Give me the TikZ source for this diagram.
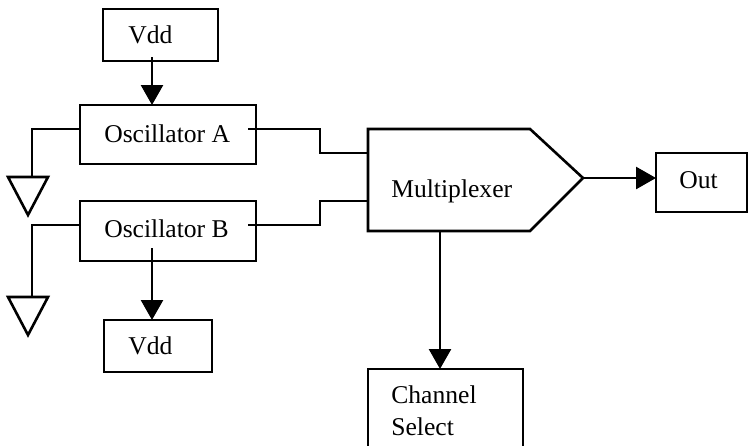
\documentclass[tikz,border=0pt]{standalone}
\usepackage{fontspec}
\setmainfont{Liberation Serif}
\usetikzlibrary{arrows.meta}
\begin{document}
\begin{tikzpicture}[x=1pt,y=-1pt,
  line width=2.6pt,
  box/.style={draw,rectangle,inner sep=0pt,outer sep=0pt},
  lbl/.style={anchor=base west,inner sep=0pt,font=\fontsize{25.6}{29.5}\selectfont},
  arr/.style={-{Triangle[length=20pt,width=22pt]}},
  wire/.style={line join=miter}]
\useasboundingbox (0,0) rectangle (749,445);
\begin{scope}
\clip (0,0) rectangle (749,445);
% boxes
\node[box,minimum width=115pt,minimum height=52pt] (vddT) at (160.5,35) {};
\node[box,minimum width=176pt,minimum height=59pt] (oscA) at (168,134.5) {};
\node[box,minimum width=176pt,minimum height=60pt] (oscB) at (168,231) {};
\node[box,minimum width=108pt,minimum height=52pt] (vddB) at (158,346) {};
\node[box,minimum width=91pt,minimum height=59pt] (out) at (701.5,182.5) {};
\node[box,minimum width=155pt,minimum height=100pt] (chan) at (445.5,419) {};
% multiplexer
\draw[line join=miter] (368,129) coordinate (muxNW) -- (530,129) -- (583,178) coordinate (muxTip)
  -- (530,231) -- (368,231) coordinate (muxSW) -- cycle;
\coordinate (muxA) at (368,153);
\coordinate (muxB) at (368,201);
\coordinate (muxBot) at (440,231);
\node[inner sep=0pt] (mux) at (475,180) {};
% ground symbols
\coordinate (gA) at (32,177);
\coordinate (gB) at (32,297);
\draw[line join=miter] (8,177) -- (48,177) -- (28,215) -- cycle;
\draw[line join=miter] (8,297) -- (48,297) -- (28,335) -- cycle;
\end{scope}
% labels
\node[lbl] (tVddT) at (127,43) {Vdd};
\node[lbl] (tOscA) at (103,142) {Oscillator A};
\node[lbl] (tOscB) at (103,237) {Oscillator B};
\node[lbl] (tVddB) at (127,354) {Vdd};
\node[lbl] (tMux) at (390,197) {Multiplexer};
\node[lbl] (tOut) at (678,188) {Out};
\node[lbl] (tChan) at (390,403) {Channel};
\node[lbl] (tSel) at (390,435) {Select};
% connectors
\draw[arr] ([xshift=-8.5pt,yshift=4pt]vddT.south) -- ([xshift=-16pt]oscA.north);
\draw[arr] ([xshift=-16pt,yshift=13pt]oscB.south) -- ([xshift=-6pt]vddB.north);
\draw[wire] ([yshift=5.5pt]oscA.west) -| (gA);
\draw[wire] ([yshift=6pt]oscB.west) -| (gB);
\draw[wire] ([xshift=-8pt,yshift=5.5pt]oscA.east) -| (320,153) -- (muxA);
\draw[wire] ([xshift=-8pt,yshift=6pt]oscB.east) -| (320,201) -- (muxB);
\draw[arr] (muxTip) -- (muxTip -| out.west);
\draw[arr] (muxBot) -- (muxBot |- chan.north);
\end{tikzpicture}
\end{document}
